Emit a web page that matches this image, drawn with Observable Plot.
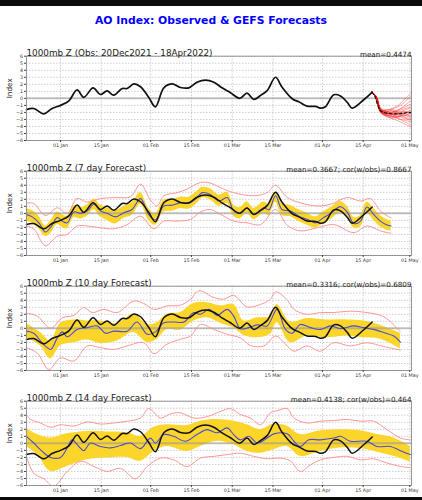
<!DOCTYPE html>
<html><head><meta charset="utf-8">
<script src="https://cdn.jsdelivr.net/npm/d3@7"></script>
<script src="https://cdn.jsdelivr.net/npm/@observablehq/plot@0.6"></script>
<style>
body{margin:0;background:#fff;font-family:"DejaVu Sans",sans-serif;}
#page{position:relative;width:422px;height:500px;overflow:hidden;background:#fff}
.bar{position:absolute;left:0;width:422px;background:#0b0b0b}
#title{position:absolute;left:0;width:422px;top:14px;line-height:13px;text-align:center;font-weight:bold;font-size:10.8px;color:#0000ff;white-space:nowrap}
.panel{position:absolute;left:0;width:422px;height:115px}
</style></head><body>
<div id="page">
<div class="bar" style="top:0;height:6px"></div>
<div id="title">AO Index: Observed &amp; GEFS Forecasts</div>
<div class="panel" id="p0" style="top:40px"></div>
<div class="panel" id="p1" style="top:155px"></div>
<div class="panel" id="p2" style="top:270px"></div>
<div class="panel" id="p3" style="top:385px"></div>
<div class="bar" style="top:497px;height:3px"></div>
</div>
<script>
// ---- axis ticks ----
const tickDateStrings = ["2022-01-01","2022-01-15","2022-02-01","2022-02-15","2022-03-01","2022-03-15","2022-04-01","2022-04-15","2022-05-01"];
const yTicks = [-6,-5,-4,-3,-2,-1,0,1,2,3,4,5,6];

// ---- panel texts ----
const panelTitles = ["1000mb Z (Obs: 20Dec2021 - 18Apr2022)","1000mb Z (7 day Forecast)","1000mb Z (10 day Forecast)","1000mb Z (14 day Forecast)"];
const panelStats = ["mean=0.4474","mean=0.3667; cor(w/obs)=0.8667","mean=0.3316; cor(w/obs)=0.6809","mean=0.4138; cor(w/obs)=0.464"];

// days are counted from 20 Dec 2021
// ---- observed AO ----
const obsDays = [0.3,2.8,6.3,9.1,12.0,14.9,17.7,20.0,23.2,25.7,28.0,30.3,33.2,34.9,37.2,39.5,42.3,44.6,47.5,50.4,53.2,56.1,58.9,61.8,64.7,67.5,70.4,73.6,76.1,78.4,80.7,83.0,85.9,88.1,91.6,93.9,96.7,99.6,101.3,103.0,105.9,108.2,110.5,112.2,116.2,119.1];
const obsVals = [-1.6,-1.45,-2.2,-1.45,-1.0,-0.35,1.2,0.15,1.5,0.55,1.05,0.45,1.4,1.4,2.05,1.65,0.15,-1.2,1.5,2.05,1.55,1.5,2.3,2.6,2.3,1.5,0.8,0.0,0.75,-0.15,0.4,1.1,3.0,1.6,-0.05,-0.5,-1.1,-1.15,-1.4,-1.2,0.5,0.35,-0.55,-1.4,-0.2,0.9];

// ---- GEFS ensemble (panel 1) ----
const ensDays = [119,120.5,122,124,126,128,130,132.5];
const ensMembers = [
  [0.9,0.2,-1.6,-1.9,-2.0,-1.8,-1.5,-1.2],
  [0.9,0.1,-1.8,-2.3,-2.6,-2.9,-3.1,-3.4],
  [0.9,0.3,-1.4,-1.6,-1.5,-1.2,-0.6,0.4],
  [0.9,0.0,-2.0,-2.5,-2.3,-2.6,-2.4,-2.8],
  [0.9,0.2,-1.7,-2.1,-2.4,-2.0,-1.8,-2.2],
  [0.9,0.1,-1.9,-2.6,-2.9,-3.2,-3.6,-4.1],
  [0.9,0.3,-1.5,-1.8,-1.7,-2.2,-2.5,-2.0],
  [0.9,0.0,-2.1,-2.2,-2.0,-1.6,-1.3,-0.8],
  [0.9,0.2,-1.6,-2.0,-2.5,-2.7,-2.2,-2.6],
  [0.9,0.1,-1.8,-2.4,-2.2,-2.4,-2.9,-3.0],
  [0.9,0.2,-1.7,-1.9,-2.1,-1.9,-2.1,-1.6],
  [0.9,0.3,-1.5,-2.0,-1.8,-2.3,-1.7,-1.4],
  [0.9,0.1,-1.9,-2.3,-2.7,-2.5,-2.7,-3.3],
  [0.9,0.2,-1.6,-1.8,-2.2,-2.1,-2.3,-2.5],
  [0.9,0.0,-2.0,-2.4,-2.6,-2.2,-1.9,-2.3],
  [0.9,0.2,-1.7,-2.2,-1.9,-1.7,-1.1,-0.3],
  [0.9,0.1,-1.8,-2.1,-2.3,-2.8,-3.3,-3.8],
  [0.9,0.2,-1.6,-1.7,-1.4,-1.0,-0.2,0.8],
  [0.9,0.0,-1.9,-2.5,-2.8,-2.6,-2.1,-1.8],
  [0.9,0.2,-1.7,-2.0,-1.6,-2.0,-2.6,-2.9]
];
const ensMeanDays = [119,120,121,122,124,126,128,130,132.5];
const ensMeanVals = [0.9,0.3,-1.0,-1.8,-2.1,-2.2,-2.2,-2.1,-2.0];

// ---- 7 day forecast ----
const f7Days = [0.3,2.3,4.6,6.8,8.6,10.9,12.6,14.3,16.6,18.9,21.2,23.5,25.7,28.0,30.9,33.8,36.6,39.5,42.3,44.6,47.5,50.4,53.2,56.1,58.9,60.7,63.5,66.4,69.3,71.5,73.6,76.1,78.4,81.9,83.6,85.9,88.1,91.0,93.9,96.7,99.6,101.9,104.8,108.2,110.5,112.8,115.1,117.3,119.6,121.9,124.2,125.6];
const f7Mean = [-0.15,-0.5,-1.35,-2.65,-2.0,-0.6,-1.1,-1.35,0.2,0.0,0.35,1.3,0.35,0.0,-0.5,0.1,0.55,2.1,-0.15,-0.95,1.05,1.15,1.5,1.45,2.25,2.95,2.7,1.75,2.25,0.35,0.0,0.8,-0.15,0.8,0.5,2.5,0.55,0.35,-0.4,-0.85,-1.35,-0.75,0.0,0.95,0.2,-1.45,-1.1,0.9,-0.15,-1.1,-1.65,-1.8];
const f7Lo = [-1.1,-1.4,-2.2,-3.3,-2.9,-1.6,-2.0,-2.2,-0.6,-0.8,-0.4,0.5,-0.5,-1.0,-1.5,-0.7,-0.3,1.3,-1.0,-1.7,0.2,0.3,0.7,0.6,1.4,2.2,1.9,1.0,1.4,-0.4,-0.8,0.0,-0.9,0.0,-0.3,1.6,-0.3,-0.5,-1.2,-1.7,-2.1,-1.6,-0.9,0.1,-0.6,-2.1,-1.9,0.0,-1.0,-1.9,-2.4,-2.5];
const f7Hi = [0.65,0.4,-0.4,-1.8,-1.1,0.2,-0.2,-0.4,1.05,0.8,1.2,2.0,1.2,0.8,0.4,1.0,1.5,2.95,0.7,-0.1,1.9,2.0,2.3,2.3,3.1,3.7,3.5,2.6,3.0,1.2,0.8,1.6,0.7,1.6,1.3,3.0,1.4,1.1,0.5,0.0,-0.5,0.1,0.8,1.7,1.0,-0.6,-0.3,1.6,0.7,-0.3,-0.9,-1.1];
const f7RedHiDays = [0.3,2.8,6.8,10.9,14.3,17.7,21.2,25.7,31.5,36.0,39.5,42.9,45.2,47.5,52.1,55.5,60.1,63.5,67.0,71.5,78.4,83.0,85.9,89.9,94.4,100.2,104.8,110.5,115.1,118.5,121.9,125.6];
const f7RedHi = [1.45,1.4,-0.3,0.8,0.0,2.1,1.6,2.1,2.25,2.35,4.15,1.9,1.05,2.5,2.95,3.45,4.4,4.3,3.65,2.95,2.5,2.95,4.0,2.25,1.5,1.05,1.3,2.25,1.75,2.1,0.35,-0.65];
const f7RedLoDays = [0.3,2.8,6.8,10.9,14.3,17.7,21.2,25.7,30.3,34.9,39.5,44.1,47.5,52.1,56.7,60.1,63.5,67.0,71.5,76.1,80.7,85.9,89.9,94.4,100.2,105.9,112.8,117.3,121.9,125.6];
const f7RedLo = [-1.8,-2.2,-4.6,-3.25,-3.0,-1.8,-1.8,-2.05,-2.2,-1.6,-0.4,-2.2,-1.1,-1.1,-0.85,0.2,0.55,-0.15,-1.1,-1.35,-1.6,0.55,-1.7,-2.5,-2.05,-1.6,-2.75,-1.8,-2.5,-2.85];

// ---- 10 day forecast ----
const f10Days = [0.3,2.8,5.7,8.6,10.9,12.6,14.3,17.7,21.2,24.6,27.5,30.3,34.9,38.3,41.8,44.6,47.5,50.9,54.4,57.8,60.1,63.0,65.8,69.3,71.5,73.8,76.7,79.6,83.0,86.4,89.3,91.6,94.4,97.9,101.3,104.8,108.2,112.8,116.2,119.6,123.1,126.5,128.8];
const f10Mean = [-0.4,-0.7,-2.05,-3.0,-1.35,-0.5,-1.2,-0.15,0.1,0.35,-0.7,-0.4,-0.4,0.9,-0.85,-0.5,0.8,0.9,0.9,2.25,2.0,2.7,1.85,2.7,1.75,-0.05,0.1,0.5,0.35,2.7,-0.15,-0.7,0.55,0.1,-0.15,0.35,-0.05,0.35,0.1,-0.15,-0.6,-1.1,-1.95];
const f10BandDays = [0.3,5.1,8.6,12.0,16.6,21.2,25.7,31.5,37.2,41.8,45.2,48.6,53.2,57.8,62.4,67.0,71.5,75.0,79.6,84.1,86.4,91.0,96.7,103.6,110.5,116.2,121.9,128.8];
const f10Lo = [-1.35,-2.5,-4.35,-2.5,-2.05,-1.65,-2.15,-1.8,-0.6,-2.05,-1.55,-0.15,-0.25,1.05,1.5,0.7,0.1,-1.0,-1.35,-0.85,0.8,-2.05,-1.1,-1.35,-1.1,-1.35,-1.55,-2.9];
const f10Hi = [0.7,-0.6,-1.8,0.7,1.2,1.05,1.05,0.7,2.0,0.55,0.8,2.0,2.25,3.55,3.65,3.2,3.4,1.05,1.5,1.65,3.4,0.9,1.4,1.2,1.2,1.05,0.45,-0.7];
const f10RedHiDays = [0.3,4.0,8.6,12.6,16.6,20.0,22.9,26.9,31.5,37.2,40.6,44.1,48.6,53.2,56.7,59.5,64.7,68.1,71.5,76.1,80.7,84.1,85.9,89.9,92.2,96.7,101.3,105.9,111.6,117.3,123.1,128.8];
const f10RedHi = [2.15,1.75,0.0,1.5,1.85,2.95,2.25,2.7,2.25,3.9,3.55,2.7,3.2,3.3,4.15,5.35,4.4,4.15,4.7,3.05,3.4,4.15,5.2,4.05,2.7,2.0,2.25,2.25,2.45,2.25,1.65,-0.5];
const f10RedLoDays = [0.3,4.0,8.0,12.0,16.6,21.2,25.7,30.3,34.9,40.6,44.1,48.6,53.2,56.7,60.1,64.7,69.3,73.8,77.3,81.9,85.9,89.9,92.2,96.7,101.3,105.9,111.6,117.3,123.1,128.8];
const f10RedLo = [-2.75,-3.5,-5.85,-4.2,-4.65,-2.5,-2.75,-3.0,-2.5,-2.05,-3.6,-2.25,-1.55,-1.1,0.55,-0.15,-0.85,-1.35,-2.45,-2.5,-1.1,-2.5,-3.25,-2.5,-3.25,-2.05,-2.5,-2.05,-2.6,-3.1];

// ---- 14 day forecast ----
const f14Days = [0.3,2.8,5.7,8.6,12.0,14.3,16.0,18.3,20.0,22.3,25.7,29.2,32.6,36.0,39.5,42.9,44.6,47.5,50.9,54.9,58.9,62.4,65.8,69.3,71.5,73.8,76.7,79.6,83.0,85.3,89.9,92.2,94.4,97.3,101.3,105.9,108.2,111.6,117.3,120.8,125.4,128.8,132.2];
const f14Mean = [1.0,0.05,-1.15,-2.0,-2.0,-0.65,0.5,-0.45,-1.05,0.05,-0.45,-0.65,-0.3,0.05,-0.75,0.75,0.05,1.25,1.0,0.3,1.25,1.95,1.5,2.2,1.25,0.5,1.0,0.05,0.75,1.35,1.35,0.3,-0.45,0.5,0.5,0.75,1.0,0.3,0.3,-0.45,-0.45,-1.05,-1.6];
const f14BandDays = [0.3,4.0,8.6,14.3,21.2,28.0,34.9,39.5,44.1,48.6,55.5,60.1,65.8,71.5,76.1,80.7,85.3,89.9,94.4,101.3,108.2,115.1,120.8,126.5,132.2];
const f14Lo = [-0.45,-1.6,-4.0,-3.3,-2.35,-2.1,-2.0,-2.55,-1.15,-0.45,-1.15,-0.45,0.3,-0.2,-1.15,-1.4,-0.9,-0.45,-1.85,-1.15,-0.65,-0.75,-1.25,-1.85,-2.65];
const f14Hi = [2.1,1.25,0.75,1.35,1.7,1.6,1.5,1.0,2.3,2.65,2.55,3.15,3.4,3.15,2.65,1.95,2.75,2.45,1.25,1.8,1.95,1.8,1.25,0.75,-0.45];
const f14RedHiDays = [0.3,1.7,5.1,8.6,12.0,16.6,21.2,25.7,30.3,34.9,39.5,42.3,46.4,49.8,53.2,57.8,62.4,67.0,70.4,73.8,77.3,80.7,84.1,86.4,89.9,92.2,96.7,101.3,105.9,110.5,115.1,119.6,124.2,128.8,132.2];
const f14RedHi = [4.1,3.4,2.9,2.3,2.65,2.45,3.05,2.75,2.9,3.15,3.6,4.95,3.6,4.2,4.35,3.6,3.8,4.55,4.95,4.1,3.6,2.65,4.35,4.65,4.95,3.6,2.9,3.15,3.25,3.4,3.15,3.15,1.95,0.75,0.5];
const f14RedLoDays = [0.3,2.8,6.3,9.7,14.3,18.9,23.5,28.0,32.6,37.8,41.8,46.4,50.9,55.5,60.1,64.7,69.3,73.8,78.4,83.0,87.5,91.0,94.4,97.9,101.3,105.9,110.5,115.1,119.6,124.2,128.8,132.2];
const f14RedLo = [-1.85,-4.25,-5.05,-6.1,-4.0,-2.55,-3.3,-4.0,-3.55,-5.05,-3.3,-2.1,-2.35,-3.3,-2.1,-1.85,-1.6,-1.4,-1.85,-2.2,-2.1,-2.5,-4.0,-3.05,-2.35,-2.0,-1.85,-2.35,-2.2,-2.8,-3.3,-3.45];

// ---- helpers ----
const startMs = Date.UTC(2021, 11, 20);
const toDate = d => new Date(startMs + d * 864e5);
const pts = (days, vals) => days.map((d, i) => ({x: toDate(d), y: vals[i]}));
const band = (days, lo, hi) => days.map((d, i) => ({x: toDate(d), lo: lo[i], hi: hi[i]}));
const tickDates = tickDateStrings.map(s => new Date(s + "T00:00:00Z"));
const xDomain = [toDate(0.32), toDate(132.6)];
const fmt = d3.utcFormat("%d %b");
const curve = "catmull-rom";

function panel(idx, extra) {
  return Plot.plot({
    width: 422, height: 115,
    marginLeft: 26, marginRight: 11, marginTop: 15.7, marginBottom: 15,
    style: {fontFamily: "DejaVu Sans, sans-serif", background: "white", overflow: "visible"},
    x: {type: "utc", domain: xDomain},
    y: {domain: [-6, 6]},
    marks: [
      Plot.gridX(tickDates, {stroke: "#b8b8b8", strokeOpacity: 1, strokeDasharray: "1.5,1.5", strokeWidth: 0.7}),
      Plot.gridY(yTicks, {stroke: "#b8b8b8", strokeOpacity: 1, strokeDasharray: "1.5,1.5", strokeWidth: 0.7}),
      ...extra,
      Plot.frame({stroke: "#8a8a8a", strokeWidth: 0.9}),
      Plot.axisX(tickDates, {tickFormat: fmt, tickSize: 2, tickPadding: 1, fontSize: 4.8, label: null, stroke: "#444", fill: "#333"}),
      Plot.axisY(yTicks, {tickSize: 2, tickPadding: 1.5, fontSize: 4.8, label: null, stroke: "#444", fill: "#333"}),
      Plot.text([panelTitles[idx]], {frameAnchor: "top-left", dy: -6.2, fontSize: 8.8, textAnchor: "start", fill: "#222"}),
      Plot.text([panelStats[idx]], {frameAnchor: "top-right", dy: -4.7, fontSize: 7.2, textAnchor: "end", fill: "#222"}),
      Plot.text(["Index"], {frameAnchor: "left", dx: -16.5, rotate: -90, fontSize: 7.3, fill: "#222"})
    ]
  });
}

const obs = pts(obsDays, obsVals);
const zero = Plot.ruleY([0], {stroke: "#9a9a9a", strokeOpacity: 0.6, strokeWidth: 2});

function forecastMarks(days, mean, bDays, lo, hi, rhD, rh, rlD, rl) {
  return [
    Plot.areaY(band(bDays, lo, hi), {x: "x", y1: "lo", y2: "hi", fill: "#fcd52a", curve}),
    zero,
    Plot.line(pts(rhD, rh), {x: "x", y: "y", stroke: "#ff8a8a", strokeWidth: 0.9, curve, clip: true}),
    Plot.line(pts(rlD, rl), {x: "x", y: "y", stroke: "#ff8a8a", strokeWidth: 0.9, curve, clip: true}),
    Plot.line(pts(days, mean), {x: "x", y: "y", stroke: "#4b4bd6", strokeWidth: 1.1, curve}),
    Plot.line(obs, {x: "x", y: "y", stroke: "#111", strokeWidth: 1.5, curve})
  ];
}

const ensMarks = ensMembers.map(m => Plot.line(pts(ensDays, m), {x: "x", y: "y", stroke: "#ff1010", strokeOpacity: 0.55, strokeWidth: 0.65, curve, clip: true}));

document.getElementById("p0").append(panel(0, [
  zero,
  Plot.line(obs, {x: "x", y: "y", stroke: "#111", strokeWidth: 1.7, curve}),
  ...ensMarks,
  Plot.line(pts(ensMeanDays, ensMeanVals), {x: "x", y: "y", stroke: "#111", strokeWidth: 1.1, strokeDasharray: "3,2", curve})
]));
document.getElementById("p1").append(panel(1, forecastMarks(f7Days, f7Mean, f7Days, f7Lo, f7Hi, f7RedHiDays, f7RedHi, f7RedLoDays, f7RedLo)));
document.getElementById("p2").append(panel(2, forecastMarks(f10Days, f10Mean, f10BandDays, f10Lo, f10Hi, f10RedHiDays, f10RedHi, f10RedLoDays, f10RedLo)));
document.getElementById("p3").append(panel(3, forecastMarks(f14Days, f14Mean, f14BandDays, f14Lo, f14Hi, f14RedHiDays, f14RedHi, f14RedLoDays, f14RedLo)));
</script>
</body></html>
